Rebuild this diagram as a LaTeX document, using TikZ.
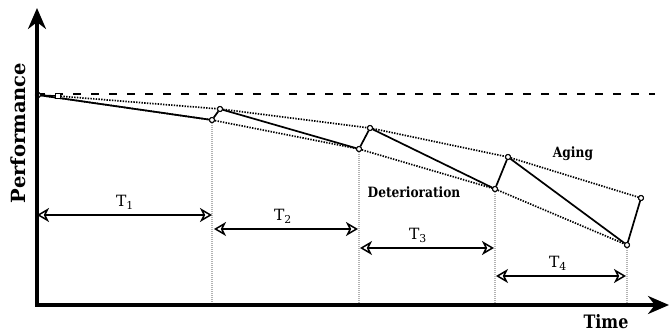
\documentclass[tikz,border=0pt]{standalone}
\usepackage{fontspec}
\setmainfont{DejaVu Serif}
\newfontfamily\condserif[FakeStretch=0.86]{DejaVu Serif}
\usetikzlibrary{arrows.meta}
\begin{document}
\begin{tikzpicture}[x=1pt,y=-1pt,
  mk/.style={circle,draw,fill=white,line width=1pt,inner sep=0pt,minimum size=5pt},
  sq/.style={rectangle,draw,fill=white,line width=1pt,inner sep=0pt,minimum size=4.5pt},
  axis/.style={line width=3.2pt,-{Stealth[length=21pt,width=18pt]}},
  solidl/.style={line width=1.7pt},
  dotl/.style={line width=1.7pt,dash pattern=on 1.4pt off 1.3pt},
  guide/.style={gray!60,line width=1.3pt,dash pattern=on 1pt off 1pt},
  span/.style={line width=1.7pt,{Stealth[open,length=12pt,width=14pt,inset=3.5pt,line width=1.5pt]}-{Stealth[open,length=12pt,width=14pt,inset=3.5pt,line width=1.5pt]}},
  lbl/.style={font=\fontsize{15.5}{17}\selectfont},
  blbl/.style={font=\condserif\fontsize{14.2}{16}\selectfont\bfseries}]
\useasboundingbox (0,0) rectangle (670,334);
% reference dashed line
\coordinate (d0) at (37,94);
\coordinate (d1) at (655,94);
\draw[line width=2.2pt,dash pattern=on 8pt off 10pt] (d0) -- (d1);
% markers
\node[mk] (p0) at (38,95) {};
\node[sq] (s0) at (58,96) {};
\node[mk] (a1) at (212,120) {};
\node[mk] (b1) at (220,109) {};
\node[mk] (a2) at (359,149) {};
\node[mk] (b2) at (370,128) {};
\node[mk] (a3) at (495,189) {};
\node[mk] (b3) at (508,157) {};
\node[mk] (a4) at (627,245) {};
\node[mk] (b4) at (641,198) {};
% guides
\coordinate (g1) at (212,305);
\coordinate (g2) at (359,305);
\coordinate (g3) at (495,305);
\coordinate (g4) at (627,305);
\draw[guide] (a1) -- (g1);
\draw[guide] (a2) -- (g2);
\draw[guide] (a3) -- (g3);
\draw[guide] (a4) -- (g4);
% dotted envelopes
\draw[dotl] (s0) -- (b1) -- (b2) -- (b3) -- (b4);
\draw[dotl] (p0) -- (a1) -- (a2) -- (a3) -- (a4);
% performance path
\draw[solidl] (p0) -- (a1) -- (b1) -- (a2) -- (b2) -- (a3) -- (b3) -- (a4) -- (b4);
\draw[line width=1.3pt] (p0) -- (s0);
% redraw markers on top
\foreach \n in {p0,a1,b1,a2,b2,a3,b3,a4,b4}{\node[mk] at (\n) {};}
\node[sq] at (s0) {};
% axes
\coordinate (o) at (37,305);
\coordinate (ytop) at (37,8);
\coordinate (xend) at (669,305);
\draw[axis] (o) -- (ytop);
\draw[axis] ([xshift=-1.6pt]o) -- (xend);
% spans
\coordinate (t1l) at (37,215);  \coordinate (t1r) at (212,215);
\coordinate (t2l) at (214,229); \coordinate (t2r) at (358,229);
\coordinate (t3l) at (360,248); \coordinate (t3r) at (494,248);
\coordinate (t4l) at (496,276); \coordinate (t4r) at (626,276);
\draw[span] (t1l) -- (t1r);
\draw[span] (t2l) -- (t2r);
\draw[span] (t3l) -- (t3r);
\draw[span] (t4l) -- (t4r);
\node[lbl] (T1) at (125,202) {T\textsubscript{1}};
\node[lbl] (T2) at (283,216) {T\textsubscript{2}};
\node[lbl] (T3) at (418,235) {T\textsubscript{3}};
\node[lbl] (T4) at (558,263) {T\textsubscript{4}};
% labels
\node[blbl] (det) at (414,192) {Deterioration};
\node[blbl] (aging) at (573,154) {Aging};
\node[font=\condserif\fontsize{18.5}{20}\selectfont\bfseries] (time) at (606,322) {Time};
\node[font=\fontsize{19.5}{21}\selectfont\bfseries,rotate=90] (perf) at (18,133) {Performance};
\end{tikzpicture}
\end{document}
